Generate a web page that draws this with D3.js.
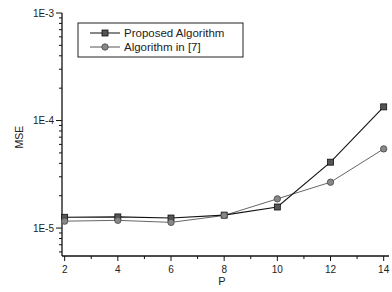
<!DOCTYPE html>
<html><head><meta charset="utf-8">
<script src="https://cdn.jsdelivr.net/npm/d3@7"></script>
<style>body{margin:0;background:#fff}svg{display:block}</style>
</head><body><svg id="c" width="392" height="292"></svg>
<script>
const pValues = [2, 4, 6, 8, 10, 12, 14];
const proposed = [1.26e-5, 1.27e-5, 1.24e-5, 1.32e-5, 1.57e-5, 4.1e-5, 1.34e-4];
const alg7 = [1.16e-5, 1.18e-5, 1.13e-5, 1.31e-5, 1.87e-5, 2.67e-5, 5.45e-5];
const seriesNames = ["Proposed Algorithm", "Algorithm in [7]"];
const yTickLabels = ["1E-5", "1E-4", "1E-3"];
const yTickValues = [1e-5, 1e-4, 1e-3];

const svg = d3.select("#c");
const font = "Liberation Sans, Arial, sans-serif";
const x = d3.scaleLinear().domain([1.9, 14.2]).range([62, 389]);
const y = d3.scaleLog().domain([5.5e-6, 1e-3]).range([256, 13]);

// x axis
const xa = svg.append("g").attr("transform", "translate(0,256)");
xa.append("line").attr("x1", 62).attr("x2", 389).attr("stroke", "#111").attr("stroke-width", 1.3);
const xMajor = d3.range(2, 15, 2), xMinor = d3.range(3, 14, 2);
xa.selectAll(".mj").data(xMajor).join("line").attr("x1", d => x(d)).attr("x2", d => x(d)).attr("y1", 0).attr("y2", 5).attr("stroke", "#111");
xa.selectAll(".mn").data(xMinor).join("line").attr("x1", d => x(d)).attr("x2", d => x(d)).attr("y1", 0).attr("y2", 3).attr("stroke", "#111");
xa.selectAll("text").data(xMajor).join("text").attr("x", d => x(d)).attr("y", 17).attr("text-anchor", "middle")
  .attr("font-family", font).attr("font-size", 10).attr("fill", "#222").text(d => d);

// y axis
const ya = svg.append("g");
ya.append("line").attr("x1", 62).attr("x2", 62).attr("y1", 13).attr("y2", 256).attr("stroke", "#111").attr("stroke-width", 1.3);
const yMinor = [];
[1e-6, 1e-5, 1e-4].forEach(b => { for (let k = 2; k <= 9; k++) { const v = b * k; if (v >= 5.5e-6 && v <= 1e-3) yMinor.push(v); } });
ya.selectAll(".mn").data(yMinor).join("line").attr("x1", 59).attr("x2", 62).attr("y1", d => y(d)).attr("y2", d => y(d)).attr("stroke", "#111");
ya.selectAll(".mj").data(yTickValues).join("line").attr("x1", 56).attr("x2", 62).attr("y1", d => y(d)).attr("y2", d => y(d)).attr("stroke", "#111");
ya.selectAll("text").data(yTickValues).join("text").attr("x", 54).attr("y", d => y(d) + 3.5).attr("text-anchor", "end")
  .attr("font-family", font).attr("font-size", 10).attr("fill", "#222").text((d, i) => yTickLabels[i]);

// axis titles
svg.append("text").attr("transform", "translate(23,137) rotate(-90)").attr("text-anchor", "middle")
  .attr("font-family", font).attr("font-size", 10.5).attr("fill", "#222").text("MSE");
svg.append("text").attr("x", 222).attr("y", 285).attr("text-anchor", "middle")
  .attr("font-family", font).attr("font-size", 11).attr("fill", "#222").text("P");

// lines
const line = d3.line().x((d, i) => x(pValues[i])).y(d => y(d));
svg.append("path").datum(alg7).attr("d", line).attr("fill", "none").attr("stroke", "#555").attr("stroke-width", 0.9);
svg.append("path").datum(proposed).attr("d", line).attr("fill", "none").attr("stroke", "#111").attr("stroke-width", 1.1);

svg.selectAll(".sq").data(proposed).join("rect").attr("x", (d, i) => x(pValues[i]) - 3).attr("y", d => y(d) - 3)
  .attr("width", 6).attr("height", 6).attr("fill", "#555").attr("stroke", "#111").attr("stroke-width", 0.8);
svg.selectAll(".ci").data(alg7).join("circle").attr("cx", (d, i) => x(pValues[i])).attr("cy", d => y(d)).attr("r", 3.2)
  .attr("fill", "#888").attr("stroke", "#444").attr("stroke-width", 0.8);

// legend
const lg = svg.append("g");
lg.append("rect").attr("x", 78).attr("y", 23).attr("width", 165).attr("height", 34).attr("fill", "#fff").attr("stroke", "#222").attr("stroke-width", 1);
seriesNames.forEach((n, i) => {
  const yy = 33 + i * 14;
  lg.append("line").attr("x1", 90).attr("x2", 120).attr("y1", yy).attr("y2", yy).attr("stroke", i ? "#555" : "#111").attr("stroke-width", 1);
  if (i === 0) lg.append("rect").attr("x", 102).attr("y", yy - 3).attr("width", 6).attr("height", 6).attr("fill", "#555").attr("stroke", "#111").attr("stroke-width", 0.8);
  else lg.append("circle").attr("cx", 105).attr("cy", yy).attr("r", 3.2).attr("fill", "#888").attr("stroke", "#444").attr("stroke-width", 0.8);
  lg.append("text").attr("x", 124).attr("y", yy + 4).attr("font-family", font).attr("font-size", 11.5).attr("fill", "#222").text(n);
});
</script></body></html>
